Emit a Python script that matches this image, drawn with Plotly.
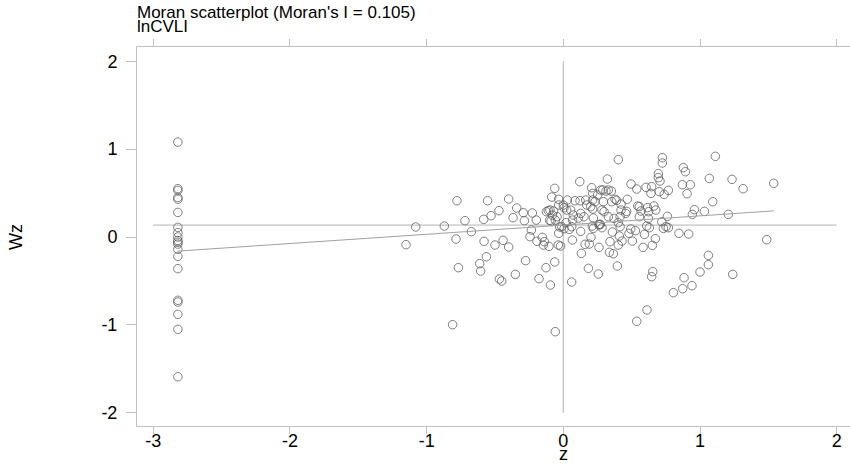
import plotly.graph_objects as go

# ---- data ----
moran_i = 0.105
mean_wz = 0.136

z_left = [-2.82] * 20
wz_left = [1.08, 0.55, 0.53, 0.45, 0.43, 0.28, 0.11, 0.05, 0.0, -0.04, -0.06, -0.08,
           -0.14, -0.22, -0.36, -0.72, -0.74, -0.88, -1.05, -1.59]

z_neg = [-1.151, -1.080, -0.871, -0.778, -0.720, -0.785, -0.673, -0.768, -0.810, -0.554,
         -0.583, -0.529, -0.471, -0.580, -0.563, -0.612, -0.605, -0.500, -0.441, -0.400,
         -0.468, -0.451, -0.400, -0.368, -0.341, -0.351, -0.293, -0.285, -0.227, -0.198,
         -0.234, -0.244, -0.193, -0.154, -0.139, -0.105, -0.276, -0.178, -0.127, -0.095,
         -0.063, -0.059, 0.061, -0.063, -0.085, -0.034, -0.110, -0.071, -0.046, -0.090,
         -0.059, -0.027, -0.034, -0.020, -0.037, 0.066, 0.120, 0.132, 0.183,
         -0.124, -0.098, -0.080, -0.100, -0.146, -0.034, 0.0]
wz_neg = [-0.087, 0.114, 0.125, 0.413, 0.186, -0.023, 0.061, -0.349, -0.997, 0.413,
          0.201, 0.243, 0.300, -0.049, -0.224, -0.303, -0.387, -0.091, -0.038, -0.114,
          -0.478, -0.501, 0.432, 0.220, 0.330, -0.425, 0.277, 0.186, 0.273, 0.193,
          0.080, 0.004, -0.049, -0.004, -0.053, -0.106, -0.269, -0.474, -0.349, -0.546,
          -0.284, -1.077, -0.512, 0.554, 0.455, 0.429, 0.300, 0.296, 0.231, 0.182,
          0.193, 0.114, 0.042, -0.102, -0.091, -0.034, 0.630, -0.186, -0.356,
          0.288, 0.307, 0.250, 0.190, -0.091, 0.364, 0.364]

z_pos = [0.402, 0.724, 0.724, 1.112, 0.878, 0.893, 0.695, 0.695, 0.707, 0.322,
         0.495, 0.537, 1.068, 1.234, 1.315, 1.539, 0.871, 0.929, 0.905, 0.768,
         0.641, 0.737, 0.702, 0.605, 0.646, 0.207, 0.215, 0.273, 0.312, 0.351,
         1.093, 0.959, 1.032, 0.944, 1.207, 1.488, 0.846, 0.917, 0.761, 1.061,
         1.061, 1.000, 1.239, 0.883, 0.941, 0.873, 0.805, 0.612, 0.537, 0.654,
         0.646, 0.395, 0.256,
         0.366, 0.337, 0.261, 0.190, 0.159, 0.202, 0.127, 0.341, 0.402, 0.429,
         0.505, 0.583, 0.651, 0.673, 0.593, 0.480, 0.527, 0.410, 0.359, 0.212,
         0.261, 0.283, 0.415, 0.493, 0.610, 0.629, 0.732, 0.751, 0.768, 0.720,
         0.622, 0.556, 0.568, 0.544, 0.556, 0.624, 0.663, 0.676, 0.615, 0.463,
         0.456, 0.415, 0.402, 0.371, 0.378, 0.390, 0.468, 0.422, 0.422, 0.354,
         0.293, 0.283, 0.298, 0.329, 0.263, 0.271, 0.220, 0.151, 0.110, 0.068,
         0.020, 0.061, 0.215, 0.200, 0.171, 0.215, 0.232, 0.163, 0.122, 0.085,
         0.029, 0.005, 0.024, 0.054, 0.073, 0.127, 0.251, 0.288, 0.329, 0.220,
         0.005, -0.012, 0.044]
wz_pos = [0.880, 0.903, 0.842, 0.918, 0.789, 0.743, 0.721, 0.675, 0.637, 0.660,
          0.603, 0.546, 0.667, 0.656, 0.550, 0.611, 0.595, 0.595, 0.493, 0.531,
          0.497, 0.485, 0.516, 0.565, 0.573, 0.561, 0.497, 0.535, 0.523, 0.523,
          0.402, 0.311, 0.292, 0.258, 0.258, -0.030, 0.042, 0.034, 0.235, -0.209,
          -0.315, -0.398, -0.425, -0.463, -0.554, -0.588, -0.633, -0.830, -0.959, -0.394,
          -0.451, -0.330, -0.421,
          -0.190, -0.174, -0.118, -0.080, -0.083, -0.004, 0.064, -0.053, -0.091, -0.046,
          -0.046, -0.118, -0.095, -0.019, 0.030, 0.042, 0.072, 0.011, 0.057, 0.125,
          0.144, 0.106, 0.118, 0.091, 0.125, 0.106, 0.099, 0.118, 0.106, 0.174,
          0.212, 0.231, 0.296, 0.353, 0.345, 0.288, 0.353, 0.307, 0.334, 0.292,
          0.269, 0.231, 0.163, 0.212, 0.429, 0.417, 0.429, 0.375, 0.307, 0.402,
          0.402, 0.307, 0.288, 0.231, 0.137, 0.144, 0.216, 0.231, 0.216, 0.193,
          0.163, 0.118, 0.319, 0.345, 0.364, 0.421, 0.402, 0.421, 0.413, 0.413,
          0.421, 0.334, 0.307, 0.307, 0.250, 0.269, 0.478, 0.535, 0.535, 0.099,
          0.095, 0.118, 0.087]

z_vals = z_left + z_neg + z_pos
wz_vals = wz_left + wz_neg + wz_pos

x_ticks = [-3, -2, -1, 0, 1, 2]
y_ticks = [-2, -1, 0, 1, 2]

title_line1 = "Moran scatterplot (Moran's I = 0.105)"
title_line2 = "lnCVLI"
x_title = "z"
y_title = "Wz"

FONT = "Liberation Sans, Arial, sans-serif"

fig = go.Figure()

# reference lines
fig.add_trace(go.Scatter(x=[0, 0], y=[-2, 2], mode="lines",
                         line=dict(color="#c8c8c8", width=1.5), hoverinfo="skip",
                         showlegend=False))
fig.add_trace(go.Scatter(x=[-3, 2], y=[mean_wz, mean_wz], mode="lines",
                         line=dict(color="#b4b4b4", width=1), hoverinfo="skip",
                         showlegend=False))

# points
fig.add_trace(go.Scatter(x=z_vals, y=wz_vals, mode="markers",
                         marker=dict(symbol="circle-open", size=8.5,
                                     color="#606060", line=dict(width=0.8, color="#606060")),
                         showlegend=False))

# regression line
zmin, zmax = min(z_vals), max(z_vals)
fig.add_trace(go.Scatter(x=[zmin, zmax],
                         y=[mean_wz + moran_i * zmin, mean_wz + moran_i * zmax],
                         mode="lines", line=dict(color="#a0a0a0", width=1),
                         hoverinfo="skip", showlegend=False))

fig.update_layout(
    width=850, height=465,
    margin=dict(l=137, r=0, t=47, b=39),
    paper_bgcolor="white", plot_bgcolor="white",
    font=dict(family=FONT, color="black", size=18),
    showlegend=False,
    annotations=[
        dict(text=title_line1, xref="paper", yref="paper", x=0, y=1,
             xanchor="left", yanchor="bottom", yshift=24, xshift=-1, showarrow=False,
             borderpad=0, font=dict(size=17, family=FONT, color="black")),
        dict(text=title_line2, xref="paper", yref="paper", x=0, y=1,
             xanchor="left", yanchor="bottom", yshift=10, xshift=-1, showarrow=False,
             borderpad=0, font=dict(size=17, family=FONT, color="black")),
        dict(text=x_title, xref="x", yref="paper", x=0, y=0,
             xanchor="center", yanchor="bottom", yshift=-39, showarrow=False,
             borderpad=0, font=dict(size=18, family=FONT, color="black")),
        dict(text=y_title, xref="paper", yref="y", x=0, y=0,
             xanchor="center", yanchor="middle", xshift=-121, textangle=-90,
             showarrow=False, font=dict(size=18, family=FONT, color="black")),
    ],
)

fig.update_xaxes(range=[-3.119, 2.097], tickvals=x_ticks, ticktext=[str(v) for v in x_ticks],
                 showgrid=False, zeroline=False, showline=True, linecolor="#c0c0c0",
                 linewidth=1, mirror="ticks", ticks="outside", ticklen=7,
                 tickcolor="#c0c0c0", tickwidth=1, automargin=False,
                 ticklabelstandoff=-9, tickfont=dict(size=18))
fig.update_yaxes(range=[-2.15, 2.162], tickvals=y_ticks, ticktext=[str(v) for v in y_ticks],
                 showgrid=False, zeroline=False, showline=True, linecolor="#c0c0c0",
                 linewidth=1, mirror=False, ticks="outside", ticklen=10,
                 tickcolor="#c0c0c0", tickwidth=1, automargin=False,
                 ticklabelstandoff=5, tickfont=dict(size=18))

fig.write_html("out.html")
